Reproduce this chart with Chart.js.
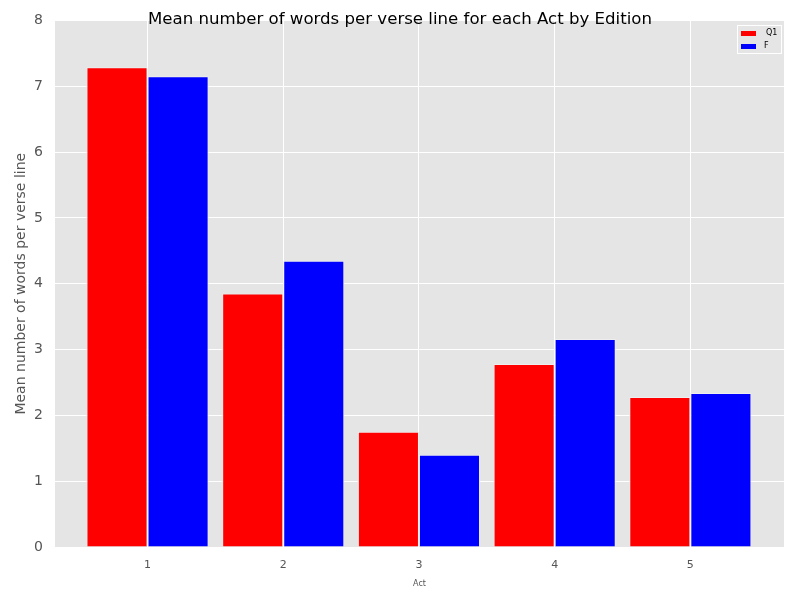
<!DOCTYPE html>
<html>
<head>
<meta charset="utf-8">
<script src="https://cdn.jsdelivr.net/npm/chart.js@4"></script>
<style>
  html, body { margin: 0; padding: 0; background: #fff; }
  #wrap { width: 800px; height: 600px; }
</style>
</head>
<body>
<div id="wrap"><canvas id="chart-canvas" width="800" height="600"></canvas></div>
<script>
const acts = [1, 2, 3, 4, 5];
const q1Values = [7.29, 3.85, 1.75, 2.78, 2.28];
const fValues = [7.15, 4.35, 1.40, 3.16, 2.34];
const yTicks = [0, 1, 2, 3, 4, 5, 6, 7, 8];

const chartTitle = "Mean number of words per verse line for each Act by Edition";
const font = "'DejaVu Sans', sans-serif";

// plot background + title over the top edge, like the matplotlib ggplot style
const ggBackground = {
  id: "ggBackground",
  beforeDraw(chart) {
    const {ctx, chartArea: a} = chart;
    ctx.save();
    ctx.fillStyle = "#e5e5e5";
    ctx.fillRect(a.left, a.top, a.right - a.left, a.bottom - a.top);
    ctx.restore();
  },
  afterDraw(chart) {
    const {ctx} = chart;
    ctx.save();
    ctx.font = "16.6px " + font;
    ctx.fillStyle = "#000";
    ctx.textAlign = "center";
    ctx.textBaseline = "middle";
    ctx.fillText(chartTitle, chart.width / 2, 20);

    // legend box
    const items = chart.data.datasets;
    const x0 = 737, y0 = 25, w = 44, h = 28;
    ctx.fillStyle = "#e5e5e5";
    ctx.strokeStyle = "#ffffff";
    ctx.lineWidth = 1;
    ctx.fillRect(x0, y0, w, h);
    ctx.strokeRect(x0 + 0.5, y0 + 0.5, w, h);
    ctx.font = "8px " + font;
    ctx.textAlign = "left";
    items.forEach((ds, i) => {
      const yy = y0 + 8 + i * 13;
      ctx.fillStyle = ds.backgroundColor;
      ctx.fillRect(x0 + 4, yy - 2, 15, 5);
      ctx.fillStyle = "#000";
      ctx.fillText(ds.label, x0 + (i === 0 ? 29 : 27), yy);
    });
    ctx.restore();
  }
};

new Chart(document.getElementById("chart-canvas"), {
  type: "bar",
  data: {
    datasets: [
      {
        label: "Q1",
        data: acts.map((a, i) => ({x: a, y: q1Values[i]})),
        backgroundColor: "#ff0000",
        borderColor: "#eeeeee",
        borderWidth: 1,
        categoryPercentage: 0.9,
        barPercentage: 1.0
      },
      {
        label: "F",
        data: acts.map((a, i) => ({x: a, y: fValues[i]})),
        backgroundColor: "#0000ff",
        borderColor: "#eeeeee",
        borderWidth: 1,
        categoryPercentage: 0.9,
        barPercentage: 1.0
      }
    ]
  },
  options: {
    responsive: false,
    animation: false,
    layout: {padding: {top: 20, right: 16, left: 9, bottom: 7}},
    plugins: {
      legend: {display: false},
      title: {display: false},
      tooltip: {enabled: false}
    },
    scales: {
      x: {
        type: "linear",
        offset: false,
        min: 0.318,
        max: 5.69,
        afterBuildTicks: (axis) => { axis.ticks = acts.map(v => ({value: v})); },
        afterFit: (axis) => { axis.height = 46; },
        grid: {color: "#ffffff", lineWidth: 1, drawTicks: false, offset: false},
        border: {display: false},
        ticks: {color: "#555555", font: {family: font, size: 11}, padding: 12},
        title: {display: true, text: "Act", color: "#555555", font: {family: font, size: 8}, padding: {top: 4}}
      },
      y: {
        min: 0,
        max: 8,
        afterBuildTicks: (axis) => { axis.ticks = yTicks.map(v => ({value: v})); },
        afterFit: (axis) => { axis.width = 46; },
        grid: {color: "#ffffff", lineWidth: 1, drawTicks: false},
        border: {display: false},
        ticks: {color: "#555555", font: {family: font, size: 14}, padding: 12},
        title: {display: true, text: "Mean number of words per verse line", color: "#555555", font: {family: font, size: 14}, padding: {bottom: 0}}
      }
    }
  },
  plugins: [ggBackground]
});
</script>
</body>
</html>
